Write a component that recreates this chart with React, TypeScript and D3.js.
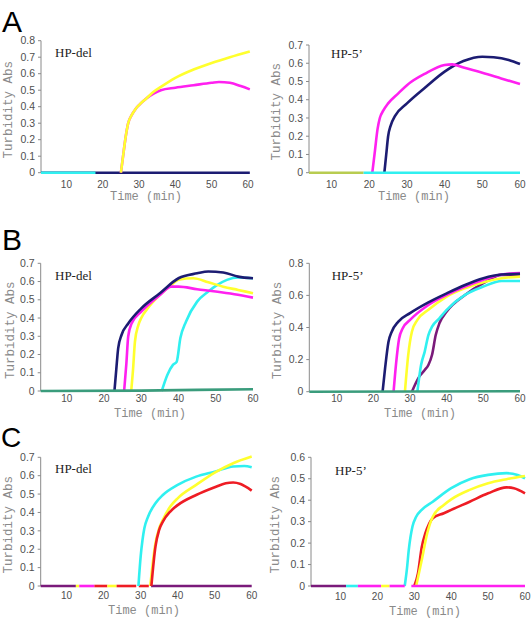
import React from "react";
import * as d3 from "d3";

type Pt = [number, number];

// ---------- colours ----------
const NAVY = "#1c1c72";
const MAGENTA = "#ff20f0";
const YELLOW = "#ffff2e";
const CYAN = "#30f0f0";
const RED = "#ee1c24";
const PURPLE = "#7a1a7a";
const GREEN = "#3a9c7c";
const OLIVE = "#b8cc50";

// ---------- tick values ----------
const timeTicks = [10, 20, 30, 40, 50, 60];
const yTicks08 = [0, 0.1, 0.2, 0.3, 0.4, 0.5, 0.6, 0.7, 0.8];
const yTicks07 = [0, 0.1, 0.2, 0.3, 0.4, 0.5, 0.6, 0.7];
const yTicks08b = [0, 0.2, 0.4, 0.6, 0.8];
const yTicks06 = [0, 0.1, 0.2, 0.3, 0.4, 0.5, 0.6];

// ---------- panel A, HP-del ----------
const a1Navy: Pt[] = [[3, 0], [60.5, 0]];
const a1Cyan: Pt[] = [[3, 0], [18, 0]];
const a1Magenta: Pt[] = [[25, 0], [25.6, 0.1], [26.2, 0.2], [27, 0.3], [28, 0.35], [29, 0.385], [30, 0.41], [32, 0.45], [34, 0.48], [36, 0.5], [40, 0.515], [45, 0.53], [50, 0.545], [52, 0.55], [55, 0.545], [58, 0.525], [60.5, 0.505]];
const a1Yellow: Pt[] = [[25, 0], [25.6, 0.1], [26.2, 0.2], [27, 0.3], [28, 0.35], [29, 0.385], [30, 0.41], [32, 0.45], [34, 0.49], [36, 0.52], [40, 0.575], [45, 0.625], [50, 0.665], [55, 0.7], [60.5, 0.735]];

// ---------- panel A, HP-5' ----------
const a2Navy: Pt[] = [[24, 0], [24.5, 0.1], [25, 0.2], [25.7, 0.26], [26.8, 0.31], [30, 0.38], [35, 0.47], [40, 0.554], [45, 0.612], [50, 0.636], [53, 0.633], [57, 0.618], [60, 0.596]];
const a2Magenta: Pt[] = [[20.8, 0], [21.5, 0.12], [22.2, 0.24], [22.8, 0.3], [23.7, 0.34], [25, 0.38], [27.7, 0.435], [30, 0.48], [35, 0.545], [40, 0.59], [42, 0.594], [45, 0.576], [50, 0.548], [55, 0.517], [60, 0.486]];
const a2Olive: Pt[] = [[4, 0], [18.5, 0]];
const a2Cyan: Pt[] = [[18.5, 0], [60, 0]];

// ---------- panel B, HP-del ----------
const b1Cyan: Pt[] = [[35.5, 0], [37, 0.088], [38.5, 0.143], [39.5, 0.16], [40.5, 0.29], [42, 0.38], [45, 0.49], [48, 0.545], [50, 0.576], [53, 0.609], [56, 0.622], [60, 0.618]];
const b1Yellow: Pt[] = [[27.3, 0], [27.8, 0.12], [28.3, 0.27], [29.2, 0.36], [30, 0.4], [32, 0.46], [35, 0.527], [38, 0.58], [40, 0.61], [44, 0.618], [48, 0.596], [52, 0.572], [56, 0.554], [60, 0.536]];
const b1Magenta: Pt[] = [[25.4, 0], [26, 0.15], [26.5, 0.3], [27.4, 0.37], [30, 0.435], [35, 0.526], [38, 0.572], [40, 0.572], [45, 0.558], [50, 0.545], [55, 0.53], [60, 0.512]];
const b1Navy: Pt[] = [[22.8, 0], [23.3, 0.12], [23.8, 0.234], [24.7, 0.307], [26.5, 0.37], [30, 0.453], [35, 0.536], [40, 0.618], [45, 0.645], [48, 0.655], [52, 0.65], [56, 0.627], [60, 0.618]];
const b1Green: Pt[] = [[3, 0], [30, 0.002], [45, 0.006], [60, 0.01]];

// ---------- panel B, HP-5' ----------
const b2Purple: Pt[] = [[30.5, 0], [32.5, 0.094], [34, 0.135], [35, 0.166], [36, 0.23], [37, 0.353], [38, 0.426], [40, 0.5], [45, 0.603], [50, 0.676], [55, 0.728], [60, 0.725]];
const b2Cyan: Pt[] = [[32, 0], [33, 0.166], [34, 0.25], [35, 0.353], [36, 0.405], [38, 0.457], [40, 0.51], [45, 0.603], [50, 0.655], [55, 0.69], [60, 0.69]];
const b2Yellow: Pt[] = [[28.6, 0], [29.5, 0.23], [30.5, 0.374], [32, 0.447], [35, 0.51], [40, 0.593], [45, 0.645], [50, 0.682], [55, 0.707], [60, 0.717]];
const b2Magenta: Pt[] = [[25.5, 0], [26.2, 0.18], [27, 0.33], [28, 0.395], [30, 0.447], [35, 0.54], [40, 0.603], [45, 0.655], [50, 0.697], [55, 0.73], [60, 0.74]];
const b2Navy: Pt[] = [[22.5, 0], [23.2, 0.15], [24.1, 0.31], [25, 0.374], [26.8, 0.437], [30, 0.49], [35, 0.557], [40, 0.613], [45, 0.665], [50, 0.707], [55, 0.73], [60, 0.735]];
const b2Green: Pt[] = [[2.5, 0], [60, 0.003]];

// ---------- panel C, HP-del ----------
const c1Cyan: Pt[] = [[29.4, 0], [30, 0.16], [30.5, 0.25], [31, 0.314], [32, 0.377], [34, 0.45], [36, 0.495], [40, 0.55], [45, 0.595], [50, 0.622], [55, 0.65], [58, 0.653], [60, 0.646]];
const c1Yellow: Pt[] = [[32.6, 0], [34, 0.232], [35, 0.314], [36, 0.36], [38, 0.432], [40, 0.477], [45, 0.55], [50, 0.617], [55, 0.668], [60, 0.704]];
const c1Red: Pt[] = [[32.9, 0], [34, 0.214], [35, 0.305], [36, 0.35], [38, 0.405], [40, 0.44], [45, 0.495], [50, 0.537], [53, 0.559], [55, 0.563], [57, 0.555], [60, 0.519]];
const c1Base: { color: string; span: Pt }[] = [
  { color: PURPLE, span: [3, 12.5] },
  { color: YELLOW, span: [12.5, 13.4] },
  { color: MAGENTA, span: [13.4, 17.5] },
  { color: RED, span: [17.5, 21] },
  { color: YELLOW, span: [21, 23.5] },
  { color: RED, span: [23.5, 28.8] },
  { color: RED, span: [29.5, 32.2] },
  { color: PURPLE, span: [32.8, 60] },
];

// ---------- panel C, HP-5' ----------
const c2Cyan: Pt[] = [[27.4, 0], [28, 0.08], [28.5, 0.168], [29.5, 0.277], [30.5, 0.323], [32, 0.355], [35, 0.393], [40, 0.456], [45, 0.498], [50, 0.518], [55, 0.526], [58, 0.518], [60, 0.502]];
const c2Red: Pt[] = [[30, 0], [31, 0.06], [32, 0.18], [33, 0.246], [34, 0.29], [35, 0.316], [38, 0.339], [40, 0.355], [45, 0.393], [50, 0.432], [55, 0.46], [57, 0.456], [60, 0.432]];
const c2Yellow: Pt[] = [[30.5, 0], [32, 0.12], [33.5, 0.246], [35, 0.323], [38, 0.378], [40, 0.404], [45, 0.448], [50, 0.479], [55, 0.498], [60, 0.513]];
const c2Base: { color: string; span: Pt }[] = [
  { color: PURPLE, span: [2, 11.5] },
  { color: CYAN, span: [11.5, 14.7] },
  { color: MAGENTA, span: [14.7, 21] },
  { color: YELLOW, span: [21, 23.3] },
  { color: MAGENTA, span: [23.3, 27.4] },
  { color: MAGENTA, span: [29.2, 60] },
];

const flat = (b: { color: string; span: Pt }[]) =>
  b.map((s) => ({ color: s.color, data: [[s.span[0], 0], [s.span[1], 0]] as Pt[] }));

type Series = { color: string; data: Pt[] };

type Panel = {
  x0: number; x1: number; left: number; right: number;
  yMax: number; top: number; bottom: number; yTicks: number[];
  xLabelY: number; titleX: number; titleY: number; yTitleX: number;
  name: string; nameX: number; nameY: number;
  series: Series[];
};

const panels: Panel[] = [
  {
    x0: 3, x1: 60, left: 41, right: 248, yMax: 0.8, top: 40.7, bottom: 172.7, yTicks: yTicks08,
    xLabelY: 184.3, titleX: 146, titleY: 196, yTitleX: 8, name: "HP-del", nameX: 55, nameY: 57,
    series: [
      { color: NAVY, data: a1Navy }, { color: CYAN, data: a1Cyan },
      { color: MAGENTA, data: a1Magenta }, { color: YELLOW, data: a1Yellow },
    ],
  },
  {
    x0: 4, x1: 60, left: 309, right: 520, yMax: 0.7, top: 45, bottom: 172.7, yTicks: yTicks07,
    xLabelY: 184.3, titleX: 414, titleY: 196, yTitleX: 276, name: "HP-5\u2019", nameX: 331, nameY: 58,
    series: [
      { color: NAVY, data: a2Navy }, { color: MAGENTA, data: a2Magenta },
      { color: OLIVE, data: a2Olive }, { color: CYAN, data: a2Cyan },
    ],
  },
  {
    x0: 3, x1: 60, left: 40.7, right: 253, yMax: 0.7, top: 263.3, bottom: 391, yTicks: yTicks07,
    xLabelY: 398, titleX: 150, titleY: 413, yTitleX: 10, name: "HP-del", nameX: 55, nameY: 280,
    series: [
      { color: CYAN, data: b1Cyan }, { color: YELLOW, data: b1Yellow },
      { color: MAGENTA, data: b1Magenta }, { color: NAVY, data: b1Navy },
      { color: GREEN, data: b1Green },
    ],
  },
  {
    x0: 2.5, x1: 60, left: 309.3, right: 520, yMax: 0.8, top: 263.3, bottom: 391.7, yTicks: yTicks08b,
    xLabelY: 398, titleX: 420, titleY: 413, yTitleX: 277, name: "HP-5\u2019", nameX: 331.7, nameY: 280,
    series: [
      { color: PURPLE, data: b2Purple }, { color: CYAN, data: b2Cyan },
      { color: YELLOW, data: b2Yellow }, { color: MAGENTA, data: b2Magenta },
      { color: NAVY, data: b2Navy }, { color: GREEN, data: b2Green },
    ],
  },
  {
    x0: 3, x1: 60, left: 40.7, right: 251.7, yMax: 0.7, top: 457.3, bottom: 586, yTicks: yTicks07,
    xLabelY: 595, titleX: 144, titleY: 610, yTitleX: 8, name: "HP-del", nameX: 55, nameY: 473,
    series: [
      ...flat(c1Base),
      { color: CYAN, data: c1Cyan }, { color: YELLOW, data: c1Yellow }, { color: RED, data: c1Red },
    ],
  },
  {
    x0: 2, x1: 60, left: 311, right: 525, yMax: 0.6, top: 457.3, bottom: 586, yTicks: yTicks06,
    xLabelY: 596.5, titleX: 425, titleY: 610.5, yTitleX: 275, name: "HP-5\u2019", nameX: 335, nameY: 475,
    series: [
      { color: CYAN, data: c2Cyan }, { color: RED, data: c2Red }, { color: YELLOW, data: c2Yellow },
      ...flat(c2Base),
    ],
  },
];

const letters = [
  { t: "A", x: 2, y: 32, size: 30 },
  { t: "B", x: 2, y: 250, size: 30 },
  { t: "C", x: 1, y: 447, size: 28 },
];

const SANS = "'Liberation Sans', Arial, sans-serif";
const MONO = "'Liberation Mono', 'DejaVu Sans Mono', monospace";
const SERIF = "'Liberation Serif', 'Times New Roman', serif";

function PanelView({ p }: { p: Panel }) {
  const x = d3.scaleLinear().domain([p.x0, p.x1]).range([p.left, p.right]);
  const y = d3.scaleLinear().domain([0, p.yMax]).range([p.bottom, p.top]);
  const line = d3
    .line<Pt>()
    .x((d) => x(d[0]))
    .y((d) => y(d[1]))
    .curve(d3.curveMonotoneX);
  const fmt = (v: number) => (v === 0 ? "0" : d3.format(".1f")(v));
  return (
    <g>
      {/* y axis */}
      <line x1={p.left} x2={p.left} y1={y(0)} y2={y(p.yMax)} stroke="#8a8a8a" strokeWidth={1} />
      {p.yTicks.map((t) => (
        <g key={t}>
          <line x1={p.left - 3} x2={p.left} y1={y(t)} y2={y(t)} stroke="#8a8a8a" strokeWidth={1} />
          <text x={p.left - 6} y={y(t)} dy="0.35em" textAnchor="end" fontFamily={SANS} fontSize={10.5} fill="#505050">
            {fmt(t)}
          </text>
        </g>
      ))}
      {timeTicks.map((t) => (
        <text key={t} x={x(t)} y={p.xLabelY} dy="0.35em" textAnchor="middle" fontFamily={SANS} fontSize={10} fill="#505050">
          {t}
        </text>
      ))}
      <text x={p.titleX} y={p.titleY} dy="0.35em" textAnchor="middle" fontFamily={MONO} fontSize={12} fill="#8a8a8a">
        Time (min)
      </text>
      <text
        transform={`translate(${p.yTitleX},${(p.top + p.bottom) / 2 + 3}) rotate(-90)`}
        dy="0.35em"
        textAnchor="middle"
        fontFamily={MONO}
        fontSize={12.5}
        fill="#8a8a8a"
      >
        Turbidity Abs
      </text>
      <text x={p.nameX} y={p.nameY} fontFamily={SERIF} fontSize={13} fill="#222">
        {p.name}
      </text>
      {p.series.map((s, i) => (
        <path key={i} d={line(s.data) || ""} fill="none" stroke={s.color} strokeWidth={2.6} strokeLinejoin="round" />
      ))}
    </g>
  );
}

export default function App() {
  return (
    <svg width={531} height={623} style={{ position: "absolute", left: 0, top: 0, background: "#fff" }}>
      <rect width={531} height={623} fill="#fff" />
      {letters.map((l) => (
        <text key={l.t} x={l.x} y={l.y} fontFamily={SANS} fontSize={l.size} fill="#000">
          {l.t}
        </text>
      ))}
      {panels.map((p, i) => (
        <PanelView key={i} p={p} />
      ))}
    </svg>
  );
}
